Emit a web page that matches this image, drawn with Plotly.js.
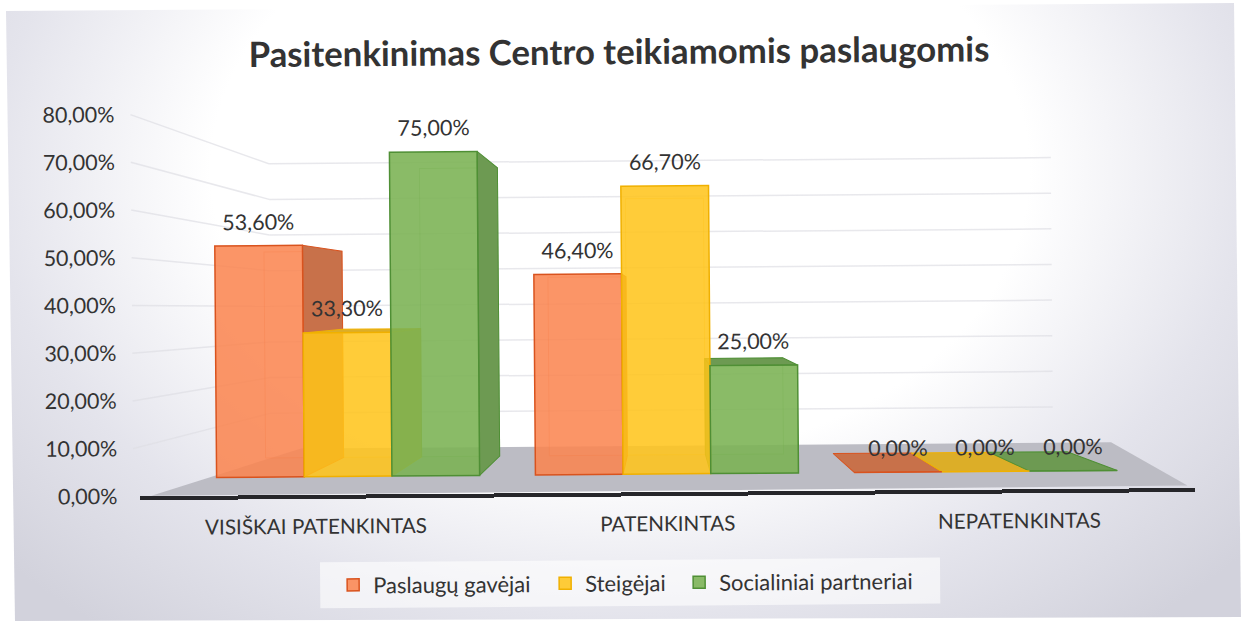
<!DOCTYPE html>
<html>
<head>
<meta charset="utf-8">
<script src="https://cdn.plot.ly/plotly-3.0.1.min.js"></script>
<style>
html,body{margin:0;padding:0;width:1242px;height:621px;overflow:hidden;background:#fff}
#panel{position:absolute;left:0;top:0;width:1242px;height:621px;
 clip-path:polygon(6px 11px,1234px 3px,1241px 617px,15px 621px);
 background:radial-gradient(ellipse 660px 470px at 620px 170px,#ffffff 0%,#ffffff 62%,#e4e4ec 95%,#d2d2dc 125%)}
#wrap{position:absolute;left:0;top:0;width:1242px;height:621px;transform:rotate(-0.45deg);transform-origin:621px 310px}
#plot{position:absolute;left:0;top:0;width:1242px;height:621px}
</style>
</head>
<body>
<div id="panel"></div>
<div id="wrap"><div id="plot"></div></div>
<script>
const categories = ['VISIŠKAI PATENKINTAS', 'PATENKINTAS', 'NEPATENKINTAS'];
const seriesNames = ['Paslaugų gavėjai', 'Steigėjai', 'Socialiniai partneriai'];
const paslauguGavejai = [53.6, 46.4, 0];
const steigejai = [33.3, 66.7, 0];
const socialiniaiPartneriai = [75, 25, 0];
const yTicks = [0, 10, 20, 30, 40, 50, 60, 70, 80];
const yTickLabels = ['0,00%', '10,00%', '20,00%', '30,00%', '40,00%', '50,00%', '60,00%', '70,00%', '80,00%'];
const allValues = [paslauguGavejai, steigejai, socialiniaiPartneriai];

const fills = ['rgba(250,132,78,0.86)', 'rgba(255,196,24,0.86)', 'rgba(122,178,82,0.88)'];
const edges = ['#d9531e', '#f0b000', '#4f8f35'];
const sides = ['#c8714a', '#dcae28', '#6d9a52'];
const TEXT = '#333333';
const FONT = 'Lato, sans-serif';

const W = 1242, H = 621;
const px = x => x / W, py = y => 1 - y / H;

// projection of the bars' box depth: vanishing point in axis units
const barW = 0.275, VX = 0.9887, VY = 40.3, S = 0.11;
const back = (x, y) => [x + S * (VX - x), y + S * (VY - y)];

const traces = [];
// carrier for the base axes
traces.push({type: 'scatter', x: categories, y: [0, 0, 0], xaxis: 'x', yaxis: 'y', mode: 'lines',
  line: {color: 'rgba(0,0,0,0)'}, showlegend: false, hoverinfo: 'skip'});

function poly(pts, fill, line, lw) {
  traces.push({type: 'scatter', xaxis: 'x2', yaxis: 'y2', mode: 'lines',
    x: pts.map(p => p[0]).concat(pts[0][0]), y: pts.map(p => p[1]).concat(pts[0][1]),
    fill: 'toself', fillcolor: fill, line: {color: line, width: lw},
    showlegend: false, hoverinfo: 'skip'});
}

allValues.forEach((vals, k) => {
  vals.forEach((v, i) => {
    const xl = i + (k - 1.5) * barW, xr = xl + barW;
    const bl = back(xl, 0), br = back(xr, 0), tl = back(xl, v), tr = back(xr, v);
    if (v > 0) {
      poly([bl, br, tr, tl], 'rgba(255,255,255,0.15)', edges[k] + '55', 1);
      if (br[0] > xr) poly([[xr, 0], br, tr, [xr, v]], sides[k], edges[k], 1);
      if (bl[0] < xl) poly([[xl, 0], bl, tl, [xl, v]], sides[k], edges[k], 1);
    }
    if (tl[1] > v) poly([[xl, v], [xr, v], tr, tl], sides[k], edges[k], 1);
  });
});

const legendIds = ['legend', 'legend2', 'legend3'];
allValues.forEach((vals, k) => {
  traces.push({type: 'bar', name: seriesNames[k], x: [0, 1, 2], y: vals, xaxis: 'x3', yaxis: 'y3', legend: legendIds[k],
    marker: {color: fills[k], line: {color: edges[k], width: 1.5}}, hoverinfo: 'skip'});
});

const annotations = [];
allValues.forEach((vals, k) => vals.forEach((v, i) => {
  annotations.push({xref: 'x3', yref: 'y3', x: i + (k - 1) * barW, y: v, yshift: 24,
    text: v.toFixed(2).replace('.', ',') + '%', showarrow: false, yanchor: 'middle',
    font: {family: FONT, size: 21.5, color: TEXT}});
}));

const shapes = [];
shapes.push({type: 'path', xref: 'paper', yref: 'paper', layer: 'below', line: {width: 0}, fillcolor: '#bcbcc4',
  path: `M${px(150)},${py(492)}L${px(300)},${py(446)}L${px(1110)},${py(446)}L${px(1186)},${py(490)}Z`});
yTicks.forEach((t) => {
  const labelY = 492.5 - (492.5 - 110.75) * t / 80;
  const wallY = 446 - (446 - 161) * t / 80;
  const line = {color: 'rgba(222,222,228,0.7)', width: 1.5};
  if (t > 0) {
    shapes.push({type: 'line', xref: 'paper', yref: 'paper', layer: 'below', line,
      x0: px(132), y0: py(labelY), x1: px(270), y1: py(wallY)});
    shapes.push({type: 'line', xref: 'paper', yref: 'paper', layer: 'below', line,
      x0: px(270), y0: py(wallY), x1: px(1052), y1: py(wallY)});
  }
});
shapes.push({type: 'rect', xref: 'paper', yref: 'paper', layer: 'below', line: {width: 0},
  fillcolor: 'rgba(255,255,255,0.6)', x0: px(318), x1: px(938), y0: py(606), y1: py(560)});

const yDom = [py(492.5), py(110.75)];
const xBarDom = [px(187.4), px(1143.9)];
const hiddenX = {domain: xBarDom, range: [-0.5, 2.5], type: 'linear', visible: false, fixedrange: true};
const hiddenY = {domain: yDom, range: [-4.21, 84.16], type: 'linear', visible: false, fixedrange: true};
const legendBase = {orientation: 'h', xanchor: 'left', y: py(583), yanchor: 'middle',
  bgcolor: 'rgba(0,0,0,0)', font: {family: FONT, size: 22, color: TEXT}};

const layout = {
  width: W, height: H,
  margin: {l: 0, r: 0, t: 0, b: 0, pad: 0},
  paper_bgcolor: 'rgba(0,0,0,0)', plot_bgcolor: 'rgba(0,0,0,0)',
  separators: ',.',
  showlegend: true,
  title: {text: 'Pasitenkinimas Centro teikiamomis paslaugomis', x: 0.5, xref: 'paper', xanchor: 'center',
    y: py(52), yref: 'paper', yanchor: 'middle',
    font: {family: FONT, size: 34.8, weight: 700, color: TEXT}},
  barmode: 'group', bargap: 0.175, bargroupgap: 0,
  xaxis: {domain: [px(138.5), px(1193.6)], anchor: 'y', type: 'category', range: [-0.5, 2.5], fixedrange: true,
    categoryorder: 'array', categoryarray: categories, showgrid: false, zeroline: false,
    showline: true, linecolor: '#26262a', linewidth: 4, ticks: '', ticklabelstandoff: 10,
    tickfont: {family: FONT, size: 20.7, color: TEXT}},
  yaxis: {domain: yDom, anchor: 'free', position: px(116), range: [0, 80], fixedrange: true,
    tickmode: 'array', tickvals: yTicks, ticktext: yTickLabels, showgrid: false, zeroline: false, showline: false, ticks: '',
    tickfont: {family: FONT, size: 21.5, color: TEXT}},
  xaxis2: Object.assign({anchor: 'y2'}, hiddenX),
  yaxis2: Object.assign({anchor: 'x2'}, hiddenY),
  xaxis3: Object.assign({anchor: 'y3'}, hiddenX),
  yaxis3: Object.assign({anchor: 'x3'}, hiddenY),
  legend: Object.assign({x: px(331)}, legendBase),
  legend2: Object.assign({x: px(543)}, legendBase),
  legend3: Object.assign({x: px(677)}, legendBase),
  shapes, annotations
};

Plotly.newPlot('plot', traces, layout, {displayModeBar: false, staticPlot: true});
</script>
</body>
</html>
